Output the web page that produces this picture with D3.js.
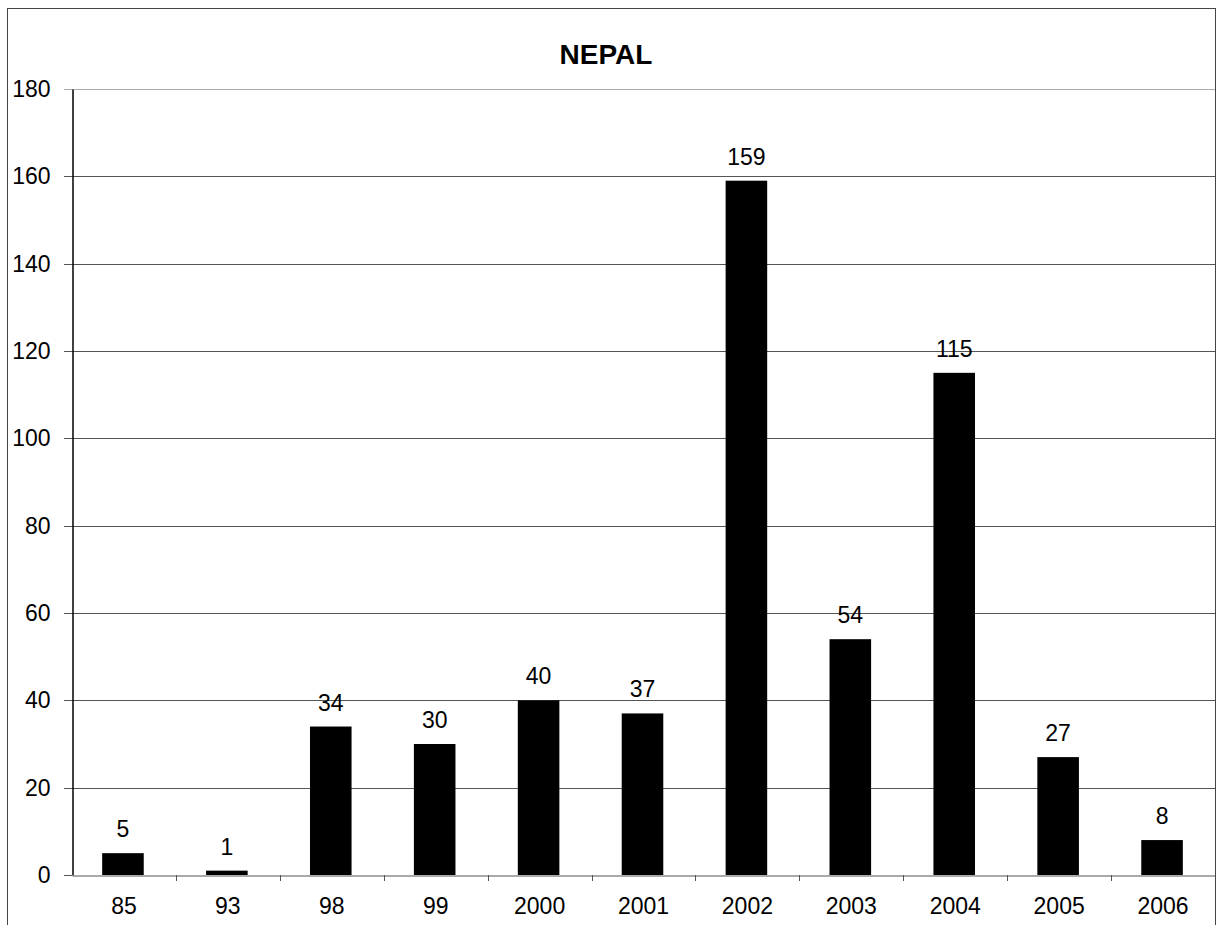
<!DOCTYPE html>
<html><head><meta charset="utf-8">
<script src="https://cdn.jsdelivr.net/npm/d3@7"></script>
<style>body{margin:0;background:#fff}svg{display:block;font-family:"Liberation Sans",Arial,sans-serif}</style>
</head><body>
<svg id="c" width="1217" height="925"></svg>
<script>
const title = "NEPAL";
const categories = ["85","93","98","99","2000","2001","2002","2003","2004","2005","2006"];
const values = [5,1,34,30,40,37,159,54,115,27,8];
const yTicks = [0,20,40,60,80,100,120,140,160,180];

const svg = d3.select("#c");
const L = 72, R = 1215, T = 89, B = 875;
svg.append("rect").attr("x",7.5).attr("y",8.5).attr("width",1208).attr("height",940)
  .attr("fill","none").attr("stroke","#444").attr("stroke-width",1);

const x = d3.scaleBand().domain(categories).range([L,R]).paddingInner(0.6).paddingOuter(0.3);
const xb = d3.scaleBand().domain(categories).range([L,R]);
const y = d3.scaleLinear().domain([0,180]).range([B,T]);

// gridlines
svg.append("g").selectAll("line").data(yTicks.filter(d=>d>0)).join("line")
  .attr("x1",64).attr("x2",R).attr("y1",d=>Math.round(y(d))+0.5).attr("y2",d=>Math.round(y(d))+0.5)
  .attr("stroke",d=>d===180?"#aaa":"#555").attr("stroke-width",1);

// y axis
const yAxis = d3.axisLeft(y).tickValues(yTicks).tickSize(0).tickPadding(22);
const gy = svg.append("g").attr("transform",`translate(${L+0.5},0)`).call(yAxis);
gy.select(".domain").attr("stroke","#000").attr("stroke-width",1.5);
gy.selectAll("text").attr("font-size",23).attr("fill","#000").attr("font-family","Liberation Sans, Arial, sans-serif");

// x axis
const xAxis = d3.axisBottom(xb).tickSize(0).tickPadding(22);
const gx = svg.append("g").attr("transform",`translate(0,${B+0.5})`).call(xAxis);
gx.select(".domain").attr("stroke","#555");
gx.selectAll("text").attr("font-size",23).attr("fill","#000").attr("font-family","Liberation Sans, Arial, sans-serif");
// boundary ticks
svg.append("g").selectAll("line").data(categories.slice(1)).join("line")
  .attr("x1",d=>Math.round(xb(d))+0.5).attr("x2",d=>Math.round(xb(d))+0.5)
  .attr("y1",B).attr("y2",B+6).attr("stroke","#555");
svg.append("line").attr("x1",64).attr("x2",L).attr("y1",B+0.5).attr("y2",B+0.5).attr("stroke","#555");

// bars
svg.append("g").selectAll("rect").data(values).join("rect")
  .attr("x",(d,i)=>x(categories[i])-1).attr("width",x.bandwidth())
  .attr("y",d=>y(d)).attr("height",d=>B-y(d)).attr("fill","#000");

// labels
svg.append("g").selectAll("text").data(values).join("text")
  .attr("x",(d,i)=>x(categories[i])+x.bandwidth()/2-1).attr("y",d=>y(d)-16)
  .attr("text-anchor","middle").attr("font-size",23).attr("fill","#000").text(d=>d);

svg.append("text").attr("x",606).attr("y",64).attr("text-anchor","middle")
  .attr("font-size",28).attr("font-weight","bold").attr("fill","#000").text(title);
</script>
</body></html>
